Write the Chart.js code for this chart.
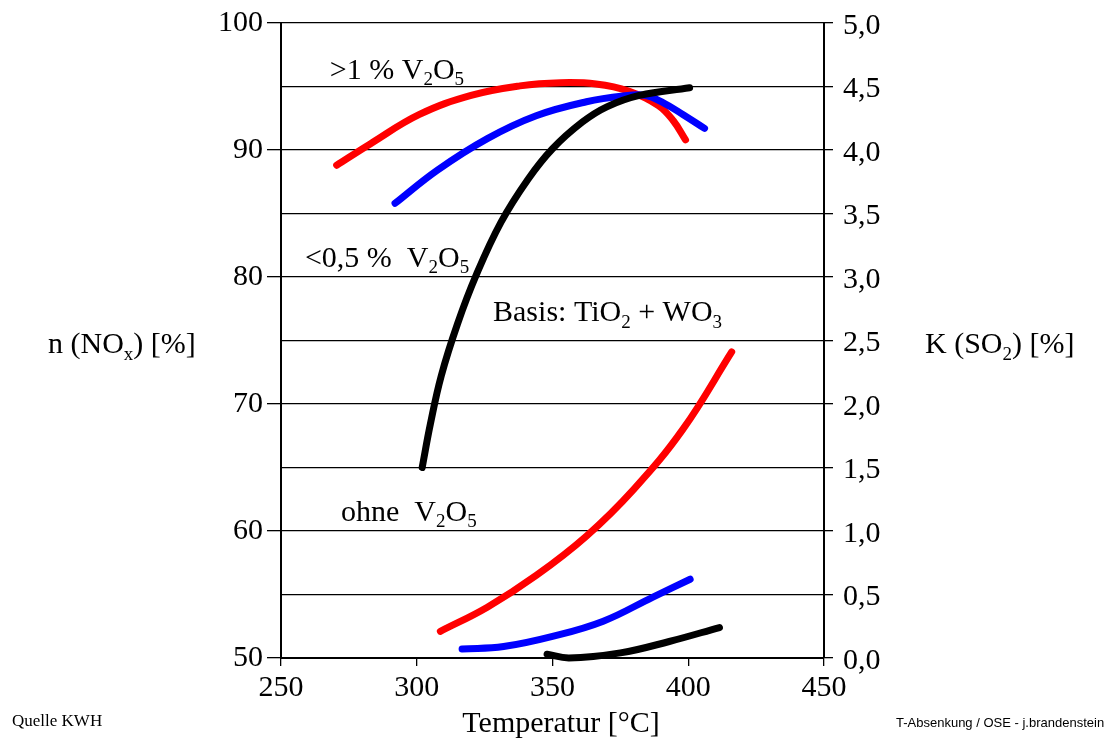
<!DOCTYPE html>
<html>
<head>
<meta charset="utf-8">
<script src="https://cdn.jsdelivr.net/npm/chart.js@4/dist/chart.umd.min.js"></script>
<style>
  body { margin: 0; background: #fff; }
  canvas { display: block; }
</style>
</head>
<body>
<canvas id="chart" width="1115" height="740"></canvas>
<script>
// x axis: Temperatur [°C]
const xTicks = [250, 300, 350, 400, 450];

// upper curves, left axis n(NOx) [%]
const redNoxT   = [270.5, 283, 301, 320, 338, 353, 366, 378, 389, 394.5, 399];
const redNoxV   = [88.8, 90.5, 92.8, 94.3, 95.05, 95.3, 95.2, 94.65, 93.5, 92.3, 90.8];
const blueNoxT  = [292, 307.5, 326, 344, 362.5, 376, 384, 391, 398, 406];
const blueNoxV  = [85.8, 88.4, 90.9, 92.7, 93.8, 94.25, 94.3, 93.7, 92.8, 91.7];
const blackNoxT = [302, 305, 309, 315, 322, 331, 341, 350, 361, 370, 382, 400.5];
const blackNoxV = [65.0, 68.4, 72.2, 76.3, 80.2, 84.3, 87.7, 90.1, 92.2, 93.4, 94.3, 94.9];

// lower curves, right axis K(SO2) [%]
const redSoT   = [308.7, 326, 344, 362.5, 380, 398, 416];
const redSoV   = [0.21, 0.40, 0.65, 0.96, 1.33, 1.80, 2.41];
const blueSoT  = [316.7, 332, 350, 368.7, 387, 400.7];
const blueSoV  = [0.07, 0.09, 0.17, 0.29, 0.48, 0.62];
const blackSoT = [348, 356, 375, 393, 411.5];
const blackSoV = [0.03, 0.0, 0.04, 0.13, 0.24];

const serif = "'Liberation Serif', 'Times New Roman', serif";

function pts(xs, ys) {
  return xs.map((x, i) => ({ x: x, y: ys[i] }));
}

function curve(xs, ys, color, axis, order) {
  return {
    data: pts(xs, ys),
    yAxisID: axis,
    borderColor: color,
    borderWidth: 7,
    borderCapStyle: "round",
    borderJoinStyle: "round",
    showLine: true,
    pointRadius: 0,
    tension: 0.4,
    clip: false,
    order: order
  };
}

// text with subscripts: parts = [[text, isSub], ...]
function richText(ctx, x, y, parts, size, align) {
  const subSize = Math.round(size * 0.62);
  let w = 0;
  parts.forEach(p => {
    ctx.font = (p[1] ? subSize : size) + "px " + serif;
    w += ctx.measureText(p[0]).width;
  });
  let cx = align === "center" ? x - w / 2 : x;
  ctx.textBaseline = "alphabetic";
  ctx.textAlign = "left";
  ctx.fillStyle = "#000";
  parts.forEach(p => {
    ctx.font = (p[1] ? subSize : size) + "px " + serif;
    ctx.fillText(p[0], cx, p[1] ? y + size * 0.22 : y);
    cx += ctx.measureText(p[0]).width;
  });
}

const labels = {
  id: "labels",
  afterDatasetsDraw(chart) {
    const ctx = chart.ctx;
    const sx = chart.scales.x, sy = chart.scales.y;
    ctx.save();
    richText(ctx, sx.getPixelForValue(268), sy.getPixelForValue(95.6),
      [[">1 % V", 0], ["2", 1], ["O", 0], ["5", 1]], 30);
    richText(ctx, sx.getPixelForValue(258.8), sy.getPixelForValue(80.8),
      [["<0,5 %  V", 0], ["2", 1], ["O", 0], ["5", 1]], 30);
    richText(ctx, sx.getPixelForValue(328.1), sy.getPixelForValue(76.5),
      [["Basis: TiO", 0], ["2", 1], [" + WO", 0], ["3", 1]], 30);
    richText(ctx, sx.getPixelForValue(272.1), sy.getPixelForValue(60.8),
      [["ohne  V", 0], ["2", 1], ["O", 0], ["5", 1]], 30);

    richText(ctx, 48, 353, [["n (NO", 0], ["x", 1], [") [%]", 0]], 30);
    richText(ctx, 925, 353, [["K (SO", 0], ["2", 1], [") [%]", 0]], 30);
    richText(ctx, 561, 732, [["Temperatur [°C]", 0]], 30, "center");
    richText(ctx, 12, 726, [["Quelle KWH", 0]], 17);

    ctx.font = "13px 'Liberation Sans', Arial, sans-serif";
    ctx.fillStyle = "#000";
    ctx.textAlign = "left";
    ctx.fillText("T-Absenkung / OSE - j.brandenstein", 896, 727);
    ctx.restore();
  }
};

const tickFont = { family: serif, size: 30 };

function noPad(s) {
  s.paddingTop = 0;
  s.paddingBottom = 0;
}

new Chart(document.getElementById("chart"), {
  type: "scatter",
  data: {
    datasets: [
      curve(blackNoxT, blackNoxV, "#000000", "y", 1),
      curve(blueNoxT, blueNoxV, "#0000ff", "y", 2),
      curve(redNoxT, redNoxV, "#ff0000", "y", 3),
      curve(blackSoT, blackSoV, "#000000", "y2", 1),
      curve(blueSoT, blueSoV, "#0000ff", "y2", 2),
      curve(redSoT, redSoV, "#ff0000", "y2", 3)
    ]
  },
  options: {
    responsive: false,
    animation: false,
    layout: { padding: { top: 23, left: 0, right: 0, bottom: 0 } },
    plugins: { legend: { display: false }, tooltip: { enabled: false } },
    scales: {
      x: {
        type: "linear",
        min: 250,
        max: 450,
        afterBuildTicks: s => { s.ticks = xTicks.map(v => ({ value: v })); },
        afterFit: s => { s.height = 82; s.paddingLeft = 0; s.paddingRight = 0; },
        ticks: { font: tickFont, color: "#000", padding: 4, maxRotation: 0 },
        grid: { drawOnChartArea: false, color: "#000", tickLength: 8, lineWidth: 1.3 },
        border: { color: "#000", width: 2 }
      },
      y: {
        position: "left",
        min: 50,
        max: 100,
        ticks: { stepSize: 10, font: tickFont, color: "#000", padding: 4 },
        afterFit: s => { s.width = 281; noPad(s); },
        grid: { drawOnChartArea: false, color: "#000", tickLength: 14, lineWidth: 1.3 },
        border: { color: "#000", width: 2 }
      },
      y2: {
        position: "right",
        min: 0,
        max: 5,
        ticks: {
          stepSize: 0.5,
          font: tickFont,
          color: "#000",
          padding: 10,
          labelOffset: 3,
          callback: v => v.toFixed(1).replace(".", ",")
        },
        afterFit: s => { s.width = 291; noPad(s); },
        grid: { drawOnChartArea: true, color: "#000", tickLength: 9, lineWidth: 1.3 },
        border: { color: "#000", width: 2 }
      }
    }
  },
  plugins: [labels]
});
</script>
</body>
</html>
